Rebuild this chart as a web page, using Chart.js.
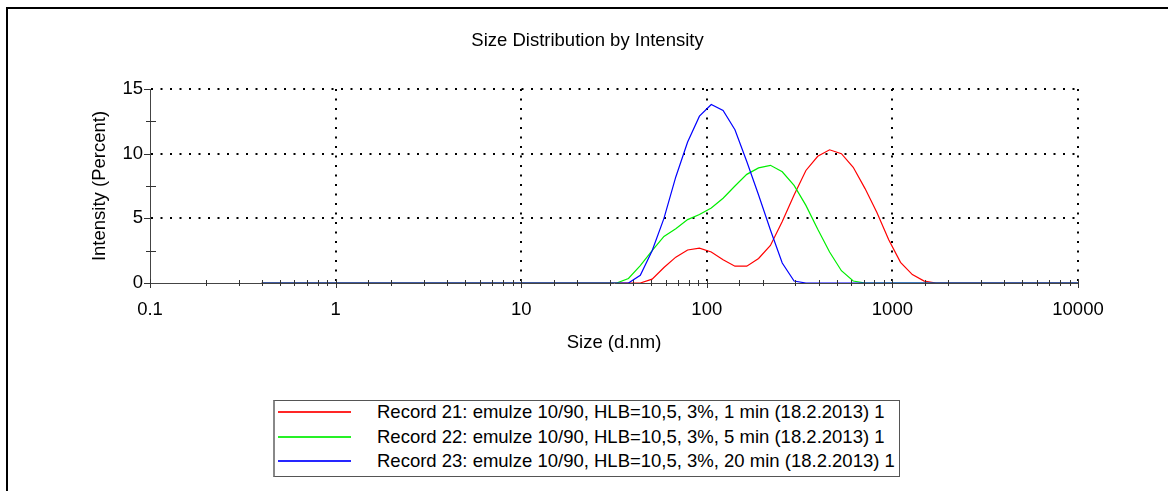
<!DOCTYPE html>
<html>
<head>
<meta charset="utf-8">
<title>Size Distribution by Intensity</title>
<script src="https://cdn.jsdelivr.net/npm/chart.js@4.4.1/dist/chart.umd.min.js"></script>
<style>
  html, body { margin: 0; padding: 0; background: #fff; }
  #wrap { position: relative; width: 1168px; height: 491px; overflow: hidden;
          font-family: "Liberation Sans", Arial, sans-serif; }
  #frame { position: absolute; left: 6px; top: 7px; width: 1300px; height: 600px;
           border-left: 2px solid #000; border-top: 2px solid #000; }
  #c { position: absolute; left: 0; top: 0; }
  #legend { position: absolute; left: 273px; top: 400px; width: 627px; height: 77px;
            box-sizing: border-box; border: 1px solid #555; border-left: 2px solid #888;
            background: #fff; }
  .row { position: absolute; left: 0; width: 100%; height: 24px; }
  .swatch { position: absolute; left: 3px; top: 11px; width: 73px; height: 2px; opacity: 0.85; }
  .lbl { position: absolute; left: 102px; top: 0; font-size: 18.5px; line-height: 24px;
         color: #000; white-space: nowrap; }
</style>
</head>
<body>
<div id="wrap">
  <div id="frame"></div>
  <canvas id="c" width="1168" height="491"></canvas>
  <div id="legend"></div>
</div>
<script>
// Size classes (d.nm)
const sizes = [
  0.4, 0.4632, 0.5365, 0.6213, 0.7195, 0.8332, 0.9649, 1.117, 1.294, 1.499,
  1.736, 2.010, 2.328, 2.696, 3.122, 3.615, 4.187, 4.849, 5.615, 6.503,
  7.531, 8.721, 10.10, 11.70, 13.54, 15.69, 18.17, 21.04, 24.36, 28.21,
  32.67, 37.84, 43.82, 50.75, 58.77, 68.06, 78.82, 91.28, 105.7, 122.4,
  141.8, 164.2, 190.1, 220.2, 255.0, 295.3, 342.0, 396.1, 458.7, 531.2,
  615.1, 712.4, 825.0, 955.4, 1106, 1281, 1484, 1718, 1990, 2305,
  2669, 3091, 3580, 4145, 4801, 5560, 6439, 7456, 8635, 10000
];

// Intensity (%) per size class
const record21 = [
  0, 0, 0, 0, 0, 0, 0, 0, 0, 0,
  0, 0, 0, 0, 0, 0, 0, 0, 0, 0,
  0, 0, 0, 0, 0, 0, 0, 0, 0, 0,
  0, 0, 0, 0.3, 1.2, 2.0, 2.55, 2.7, 2.4, 1.8,
  1.3, 1.3, 1.9, 2.9, 4.75, 6.8, 8.7, 9.8, 10.3, 10.0,
  8.95, 7.3, 5.45, 3.35, 1.6, 0.65, 0.15, 0, 0, 0,
  0, 0, 0, 0, 0, 0, 0, 0, 0, 0
];
const record22 = [
  0, 0, 0, 0, 0, 0, 0, 0, 0, 0,
  0, 0, 0, 0, 0, 0, 0, 0, 0, 0,
  0, 0, 0, 0, 0, 0, 0, 0, 0, 0,
  0, 0.35, 1.35, 2.5, 3.6, 4.2, 4.9, 5.3, 5.8, 6.55,
  7.5, 8.4, 8.9, 9.1, 8.6, 7.55, 6.0, 4.15, 2.4, 0.95,
  0.15, 0, 0, 0, 0, 0, 0, 0, 0, 0,
  0, 0, 0, 0, 0, 0, 0, 0, 0, 0
];
const record23 = [
  0, 0, 0, 0, 0, 0, 0, 0, 0, 0,
  0, 0, 0, 0, 0, 0, 0, 0, 0, 0,
  0, 0, 0, 0, 0, 0, 0, 0, 0, 0,
  0, 0, 0.6, 2.5, 5.0, 8.2, 10.9, 12.9, 13.8, 13.35,
  11.85, 9.4, 6.8, 4.1, 1.55, 0.15, 0, 0, 0, 0,
  0, 0, 0, 0, 0, 0, 0, 0, 0, 0,
  0, 0, 0, 0, 0, 0, 0, 0, 0, 0
];

const seriesLabels = [
  'Record 21: emulze 10/90, HLB=10,5, 3%, 1 min (18.2.2013) 1',
  'Record 22: emulze 10/90, HLB=10,5, 3%, 5 min (18.2.2013) 1',
  'Record 23: emulze 10/90, HLB=10,5, 3%, 20 min (18.2.2013) 1'
];
const sizeTickLabels = ['0.1', '1', '10', '100', '1000', '10000'];
const intensityTickLabels = ['0', '5', '10', '15'];

const FONT = '"Liberation Sans", Arial, sans-serif';
const FONT_SIZE = 18.5;
const isDecade = v => Math.abs(Math.log10(v) - Math.round(Math.log10(v))) < 1e-6;
const toPoints = vals => sizes.map((s, i) => ({ x: s, y: vals[i] }));

// Axis tick marks: long at decades / multiples of 5, short in between
const tickMarks = {
  id: 'tickMarks',
  afterDatasetsDraw(chart) {
    const { ctx, chartArea: a, scales: { x, y } } = chart;
    ctx.save();
    ctx.strokeStyle = '#333';
    ctx.lineWidth = 1;
    ctx.beginPath();
    x.ticks.forEach(t => {
      const px = Math.round(x.getPixelForValue(t.value)) + 0.5;
      const major = isDecade(t.value);
      ctx.moveTo(px, a.bottom - (major ? 4 : 3));
      ctx.lineTo(px, a.bottom + (major ? 5 : 3));
    });
    y.ticks.forEach(t => {
      const py = Math.round(y.getPixelForValue(t.value)) + 0.5;
      if (t.value % 5 === 0) {
        ctx.moveTo(a.left - 6, py); ctx.lineTo(a.left, py);
      } else {
        ctx.moveTo(a.left - 4, py); ctx.lineTo(a.left + 6, py);
      }
    });
    ctx.stroke();
    ctx.restore();
  }
};

const lineColors = ['#ff0000', '#00ee00', '#0000ff'];
const drawOrder = [3, 2, 1];   // blue drawn last, on top
const seriesData = [record21, record22, record23];

const chart = new Chart(document.getElementById('c'), {
  type: 'line',
  data: {
    datasets: seriesData.map((vals, i) => ({
      label: seriesLabels[i],
      data: toPoints(vals),
      borderColor: lineColors[i],
      order: drawOrder[i]
    }))
  },
  options: {
    responsive: false,
    animation: false,
    devicePixelRatio: 1,
    layout: { padding: { left: 7, right: 0, top: 0, bottom: 133.2 } },
    elements: {
      point: { radius: 0 },
      line: { borderWidth: 1.2, tension: 0 }
    },
    plugins: {
      legend: { display: false },
      tooltip: { enabled: false },
      title: {
        display: true,
        text: 'Size Distribution by Intensity',
        color: '#000',
        font: { family: FONT, size: FONT_SIZE, weight: 'normal', lineHeight: 1.2 },
        padding: { top: 29.4, bottom: 37.4 }
      }
    },
    scales: {
      x: {
        type: 'logarithmic',
        min: 0.1,
        max: 10000,
        title: {
          display: true, text: 'Size (d.nm)', color: '#000',
          font: { family: FONT, size: FONT_SIZE, lineHeight: 1.2 }, padding: { top: 4, bottom: 4 }
        },
        ticks: {
          autoSkip: false, maxRotation: 0, padding: 16, color: '#000',
          font: { family: FONT, size: FONT_SIZE },
          callback: v => isDecade(v) ? sizeTickLabels[Math.round(Math.log10(v)) + 1] : ''
        },
        grid: {
          drawTicks: false,
          lineWidth: 2,
          color: c => (c.tick && isDecade(c.tick.value) && c.tick.value > 0.1) ? '#000' : 'rgba(0,0,0,0)'
        },
        border: { display: true, color: '#444', width: 1, dash: [2, 7.5] },
        afterFit: s => { s.height = 74.8; s.paddingLeft = 0; s.paddingRight = 90; }
      },
      y: {
        min: 0,
        max: 15,
        title: {
          display: true, text: 'Intensity (Percent)', color: '#000',
          font: { family: FONT, size: FONT_SIZE, lineHeight: 1.2 }, padding: { top: 81.9, bottom: 4 }
        },
        ticks: {
          stepSize: 2.5, autoSkip: false, padding: 7, color: '#000',
          font: { family: FONT, size: FONT_SIZE },
          callback: v => v % 5 === 0 ? intensityTickLabels[v / 5] : ''
        },
        grid: {
          drawTicks: false,
          lineWidth: 2,
          color: c => (c.tick && c.tick.value > 0 && c.tick.value % 5 === 0) ? '#000' : 'rgba(0,0,0,0)'
        },
        border: { display: true, color: '#444', width: 1, dash: [2, 7.5] },
        afterFit: s => { s.width = 143; s.paddingTop = 0; s.paddingBottom = 0; }
      }
    }
  },
  plugins: [tickMarks]
});

// Legend box listing each record with its line colour
const legend = document.getElementById('legend');
seriesLabels.forEach((label, i) => {
  const row = document.createElement('div');
  row.className = 'row';
  row.style.top = (-1 + i * 24.5) + 'px';
  const sw = document.createElement('div');
  sw.className = 'swatch';
  sw.style.backgroundColor = lineColors[i];
  const lbl = document.createElement('span');
  lbl.className = 'lbl';
  lbl.textContent = label;
  row.appendChild(sw);
  row.appendChild(lbl);
  legend.appendChild(row);
});
</script>
</body>
</html>
